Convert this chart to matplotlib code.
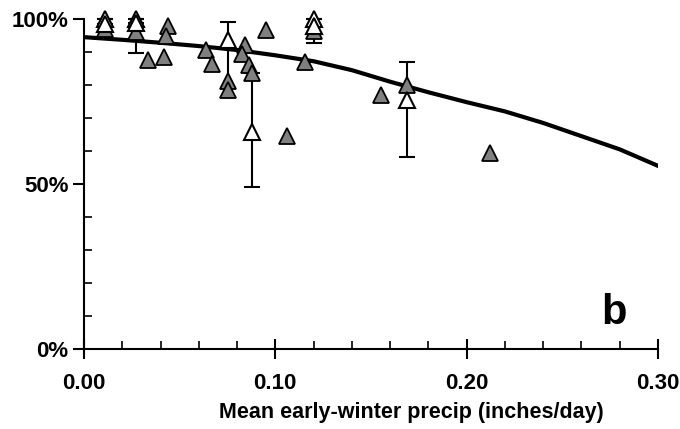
import matplotlib.pyplot as plt
from matplotlib.ticker import MultipleLocator, FuncFormatter

plt.rcParams['font.family'] = ['Liberation Sans Narrow', 'Liberation Sans', 'DejaVu Sans']
plt.rcParams['font.weight'] = 'bold'

# fitted curve
curve_x = [0.00, 0.02, 0.04, 0.06, 0.08, 0.10, 0.12, 0.14, 0.16, 0.18, 0.20, 0.22, 0.24, 0.26, 0.28, 0.30]
curve_y = [94.5, 93.7, 92.8, 91.8, 90.6, 89.0, 87.2, 84.5, 81.0, 77.8, 74.8, 72.0, 68.5, 64.5, 60.5, 55.5]

# filled (gray) triangles
filled_x = [0.011, 0.027, 0.0335, 0.042, 0.044, 0.043, 0.064, 0.067, 0.0755, 0.0755,
            0.084, 0.0825, 0.086, 0.088, 0.095, 0.106, 0.1155, 0.120, 0.155, 0.169, 0.212]
filled_y = [97.0, 96.0, 87.5, 88.5, 98.0, 95.0, 90.6, 86.4, 81.2, 78.5,
            92.1, 89.4, 86.0, 83.6, 96.7, 64.5, 87.0, 96.5, 77.0, 80.0, 59.4]

# open triangles with error bars
open_x = [0.011, 0.011, 0.027, 0.027, 0.0755, 0.088, 0.120, 0.120, 0.169]
open_y = [100.0, 98.5, 100.0, 98.8, 93.6, 65.8, 100.0, 98.0, 75.5]
err_lo = [0.0, 3.5, 0.0, 9.1, 14.6, 16.8, 0.0, 5.3, 17.3]
err_hi = [0.0, 0.0, 0.0, 0.0, 5.4, 17.8, 0.0, 0.0, 11.5]

fig = plt.figure(figsize=(6.8, 4.29), dpi=100)
ax = fig.add_axes([0.1235, 0.1865, 0.8441, 0.7692])

ax.errorbar(open_x, open_y, yerr=[err_lo, err_hi], fmt='none', ecolor='black',
            elinewidth=1.5, capsize=6, capthick=1.5, zorder=2, clip_on=False)
ax.plot(curve_x, curve_y, color='black', lw=3, zorder=3)
ax.plot(filled_x, filled_y, ls='none', marker='^', ms=11, mfc='#808080', mec='black',
        mew=1.3, zorder=4, clip_on=False)
ax.plot(open_x, open_y, ls='none', marker='^', ms=12, mfc='white', mec='black',
        mew=1.5, zorder=5, clip_on=False)

ax.set_xlim(0, 0.30)
ax.set_ylim(0, 100)
ax.spines['top'].set_visible(False)
ax.spines['right'].set_visible(False)
ax.spines['left'].set_linewidth(1.5)
ax.spines['bottom'].set_linewidth(1.5)

ax.xaxis.set_major_locator(MultipleLocator(0.10))
ax.xaxis.set_minor_locator(MultipleLocator(0.02))
ax.yaxis.set_major_locator(MultipleLocator(50))
ax.yaxis.set_minor_locator(MultipleLocator(10))
ax.xaxis.set_major_formatter(FuncFormatter(lambda v, p: '%.2f' % v))
ax.yaxis.set_major_formatter(FuncFormatter(lambda v, p: '%d%%' % v))
ax.tick_params(axis='x', which='major', direction='inout', length=14, width=1.5, labelsize=16, pad=10)
ax.tick_params(axis='x', which='minor', direction='in', length=6, width=1.2)
ax.tick_params(axis='y', which='major', direction='out', length=8, width=1.5, labelsize=16, pad=3)
ax.tick_params(axis='y', which='minor', direction='in', length=6, width=1.2)

ax.set_xlabel('Mean early-winter precip (inches/day)', fontsize=15.5, fontweight='bold', labelpad=7)
ax.xaxis.set_label_coords(0.57, -0.16)
ax.text(0.277, 11, 'b', fontsize=30, fontweight='bold', ha='center', va='center')

plt.savefig('out.png', dpi=100)
